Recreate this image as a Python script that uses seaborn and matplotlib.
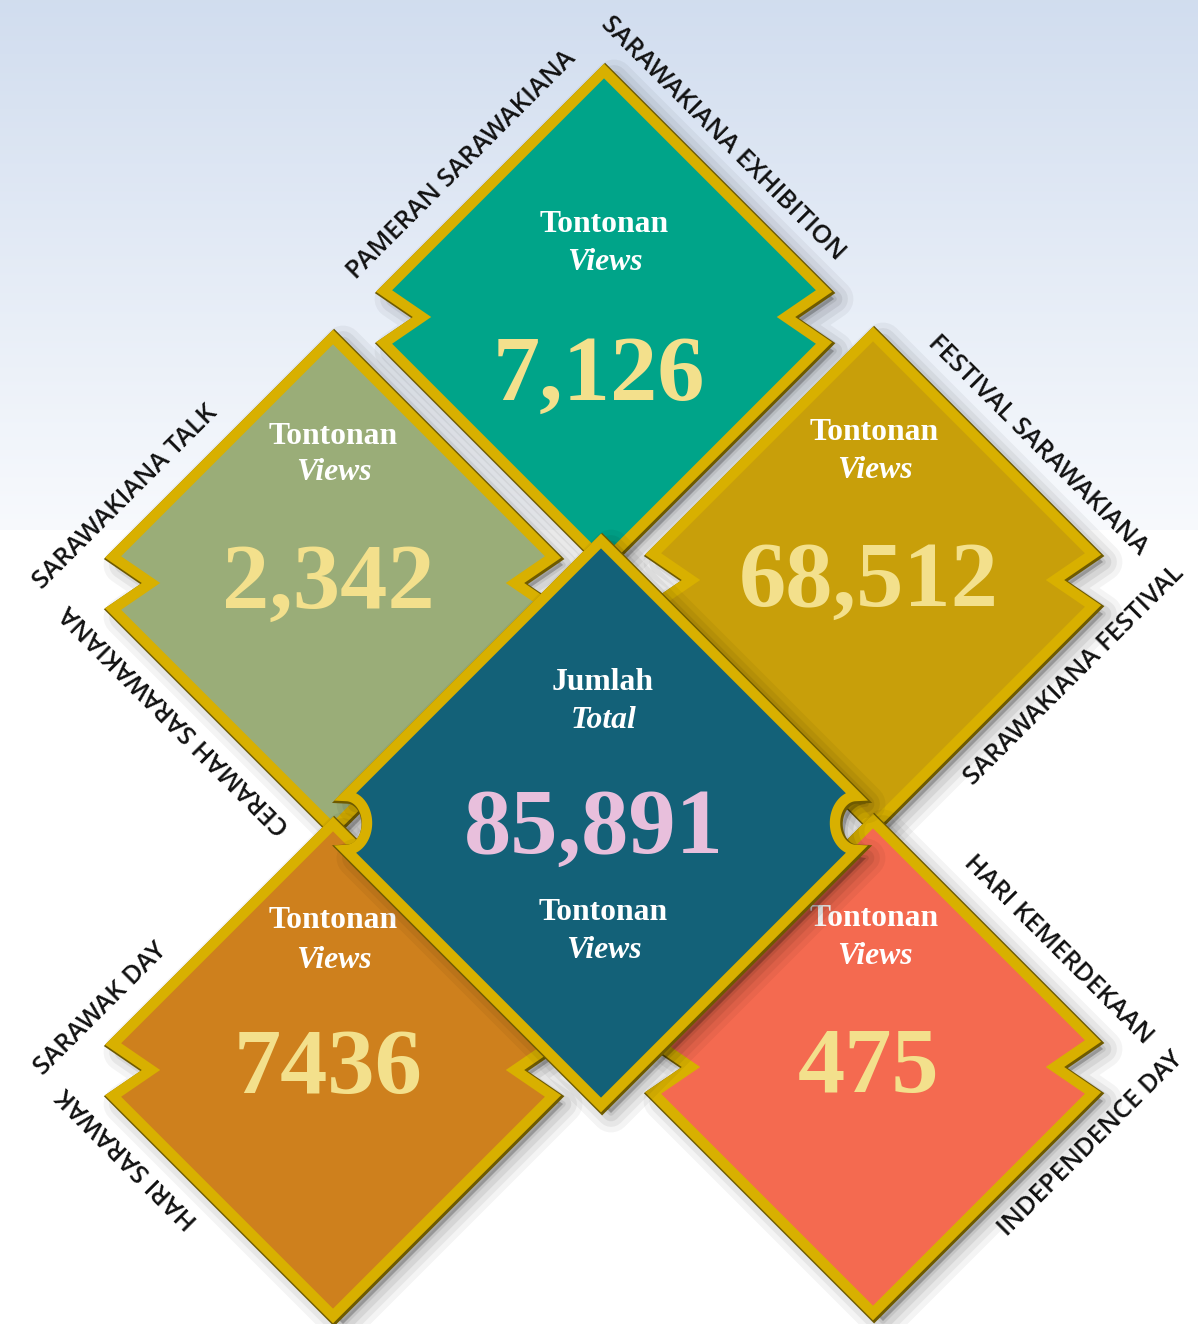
import numpy as np
import matplotlib
matplotlib.use("Agg")
import matplotlib.pyplot as plt
import matplotlib.patheffects as pe
from matplotlib.patches import Polygon
import seaborn as sns

# ---------------- data ----------------
events_ms = ["PAMERAN SARAWAKIANA", "CERAMAH SARAWAKIANA", "FESTIVAL SARAWAKIANA",
             "HARI SARAWAK", "HARI KEMERDEKAAN"]
events_en = ["SARAWAKIANA EXHIBITION", "SARAWAKIANA TALK", "SARAWAKIANA FESTIVAL",
             "SARAWAK DAY", "INDEPENDENCE DAY"]
views = [7126, 2342, 68512, 7436, 475]
use_separator = [True, True, True, False, True]
tile_colors = ["#00A489", "#9AAD78", "#C89F0A", "#CE801D", "#F46A50"]
total_label_ms = "Jumlah"
total_label_en = "Total"
views_label_ms = "Tontonan"
views_label_en = "Views"
total_color = "#136178"

# ---------------- style ----------------
sns.set_theme(style="white")
plt.rcParams['font.family'] = ['DejaVu Sans']

W, H = 1198, 1324
fig = plt.figure(figsize=(W / 100, H / 100), dpi=100)
ax = fig.add_axes([0, 0, 1, 1])

# background gradient
yy = np.arange(H)
t = np.clip(yy / 530.0, 0, 1)
c_top = np.array([0.820, 0.867, 0.937])
c_bot = np.array([0.972, 0.980, 0.992])
col = c_top[None, :] * (1 - t[:, None]) + c_bot[None, :] * t[:, None]
col[yy >= 530] = 1.0
img = np.repeat(col[:, None, :], 4, axis=1)
ax.imshow(img, extent=[0, W, H, 0], aspect='auto', zorder=0, interpolation='bilinear')
ax.set_xlim(0, W)
ax.set_ylim(H, 0)
ax.axis('off')

GOLD = "#D8B000"
DARK = "#6E5A00"
SERIF = ["Liberation Serif", "DejaVu Serif"]
SANS = ["Open Sans", "DejaVu Sans"]


def tile_shape(cx, cy, R=246, c=26, d=38):
    return np.array([
        (cx, cy - R),
        (cx + R - c, cy - c), (cx + R - c - d, cy), (cx + R - c, cy + c),
        (cx, cy + R),
        (cx - R + c, cy + c), (cx - R + c + d, cy), (cx - R + c, cy - c),
    ])


def center_shape(cx, cy, R=282, c=27, depth=21):
    pts = [(cx, cy - R)]
    ax_r = cx + R - c
    for a in np.radians(np.linspace(-90, 90, 40)):
        pts.append((ax_r - depth * np.cos(a), cy + c * np.sin(a)))
    pts.append((cx, cy + R))
    ax_l = cx - R + c
    for a in np.radians(np.linspace(90, -90, 40)):
        pts.append((ax_l + depth * np.cos(a), cy + c * np.sin(a)))
    return np.array(pts)


def draw_tile(shape, face, z):
    # soft shadow
    sh = shape + np.array([10, 8])
    for lw, a in [(28, 0.045), (20, 0.055), (12, 0.07), (4, 0.08)]:
        ax.add_patch(Polygon(sh, closed=True, facecolor='black', edgecolor='black',
                             lw=lw, alpha=a, joinstyle='round', zorder=z))
    p = Polygon(shape, closed=True, facecolor=face, edgecolor=GOLD, lw=7.5,
                joinstyle='miter', zorder=z + 1)
    p.set_path_effects([pe.Stroke(linewidth=9.5, foreground=DARK, offset=(0.8, -0.8)),
                        pe.Normal()])
    ax.add_patch(p)


# tile centres (layout) - order: exhibition, talk, festival, sarawak day, independence day
centers = [(604, 317), (333, 583), (873, 580), (333, 1070), (873, 1067)]
# text anchors inside tiles: x, y of "Tontonan", y of "Views", baseline of number
text_pos = [(604, 225, 263, 400), (333, 436, 473, 608), (874, 432, 470, 606),
            (333, 921, 960, 1093), (874, 918, 956, 1092)]

for i, (cx, cy) in enumerate(centers):
    draw_tile(tile_shape(cx, cy), tile_colors[i], 2 * i + 2)

# centre tile (total)
draw_tile(center_shape(601, 823), total_color, 20)

# text in tiles
for i, (tx, ty1, ty2, tyb) in enumerate(text_pos):
    z = 2 * i + 3
    ax.text(tx, ty1, views_label_ms, ha='center', va='center', color='white',
            fontsize=22.8, fontweight='bold', family=SERIF, zorder=z)
    ax.text(tx + 1, ty2, views_label_en, ha='center', va='center', color='white',
            fontsize=22.8, fontweight='bold', style='italic', family=SERIF, zorder=z)
    lab = f"{views[i]:,}" if use_separator[i] else f"{views[i]}"
    ax.text(tx - 5, tyb, lab, ha='center', va='baseline', color='#F3E08C',
            fontsize=68, fontweight='bold', family=SERIF, zorder=z)

total = sum(views)
ax.text(603, 682, total_label_ms, ha='center', va='center', color='white',
        fontsize=22.8, fontweight='bold', family=SERIF, zorder=22)
ax.text(604, 720, total_label_en, ha='center', va='center', color='white',
        fontsize=22.8, fontweight='bold', style='italic', family=SERIF, zorder=22)
ax.text(594, 853, f"{total:,}", ha='center', va='baseline', color='#E8BFDC',
        fontsize=68, fontweight='bold', family=SERIF, zorder=22)
ax.text(603, 913, views_label_ms, ha='center', va='center', color='white',
        fontsize=22.8, fontweight='bold', family=SERIF, zorder=22)
ax.text(604, 951, views_label_en, ha='center', va='center', color='white',
        fontsize=22.8, fontweight='bold', style='italic', family=SERIF, zorder=22)

# edge labels: (text, x, y, rotation)
edge_labels = [
    (events_ms[0], 462, 165, 45), (events_en[0], 723, 138, -45),
    (events_en[1], 126, 497, 45), (events_ms[1], 176, 719, 135),
    (events_ms[2], 1038, 445, -45), (events_en[2], 1074, 675, 45),
    (events_en[3], 101, 1009, 45), (events_ms[3], 128, 1157, 135),
    (events_ms[4], 1058, 950, -45), (events_en[4], 1091, 1144, 45),
]
for txt, x, y, rot in edge_labels:
    ax.text(x, y, txt, ha='center', va='center', rotation=rot, rotation_mode='anchor',
            color='#111111', fontsize=18.5, fontweight='semibold', family=SANS, zorder=30)

fig.savefig("out.png", dpi=100)
